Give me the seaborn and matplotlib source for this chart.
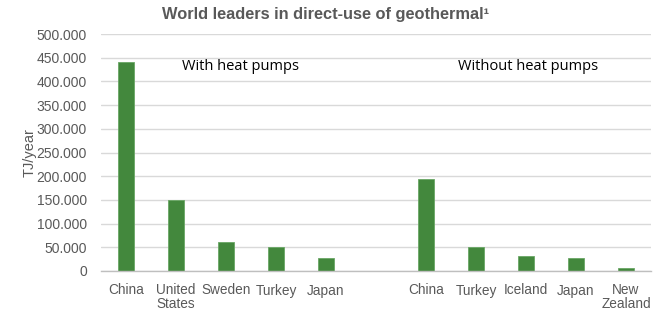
import matplotlib
matplotlib.use("Agg")
import matplotlib.pyplot as plt
import matplotlib.ticker as mticker
import seaborn as sns
import pandas as pd

# Data
with_hp_countries = ["China", "United\nStates", "Sweden", "Turkey", "Japan"]
with_hp_values = [441000, 150000, 61000, 51500, 28000]
without_hp_countries = ["China", "Turkey", "Iceland", "Japan", "New\nZealand"]
without_hp_values = [194000, 51500, 31000, 27000, 6500]
group_labels = ["With heat pumps", "Without heat pumps"]
title = "World leaders in direct-use of geothermal\u00b9"
y_label = "TJ/year"

keys = [f"hp{i}" for i in range(len(with_hp_countries))] + ["gap"] + \
       [f"nohp{i}" for i in range(len(without_hp_countries))]
labels = with_hp_countries + [""] + without_hp_countries
values = with_hp_values + [0] + without_hp_values
df = pd.DataFrame({"key": keys, "value": values})

sns.set_theme(style="white")
plt.rcParams["font.family"] = ["Liberation Sans", "DejaVu Sans"]

fig = plt.figure(figsize=(6.58, 3.10), dpi=100)
ax = fig.add_axes([101 / 658, 1 - 271 / 310, (651 - 101) / 658, (271 - 34) / 310])

sns.barplot(data=df, x="key", y="value", order=keys, color="#43883d",
            width=0.32, ax=ax, saturation=1, edgecolor="#6aa765", linewidth=0.6)

ax.set_xlim(-0.5, len(keys) - 0.5)
ax.set_ylim(0, 500000)
ax.set_yticks(range(0, 500001, 50000))
ax.yaxis.set_major_formatter(mticker.FuncFormatter(
    lambda v, p: "0" if v == 0 else f"{int(v):,}".replace(",", ".")))
ax.grid(axis="y", color="#d9d9d9", linewidth=1)
ax.set_axisbelow(True)
for s in ["top", "right", "left"]:
    ax.spines[s].set_visible(False)
ax.spines["bottom"].set_color("#bfbfbf")
ax.spines["bottom"].set_linewidth(1)

ax.set_xticks(range(len(keys)))
ax.set_xticklabels(labels, fontsize=9.8, color="#595959", linespacing=1.0, va="top")
ax.tick_params(axis="x", length=0, pad=9)
ax.tick_params(axis="y", length=0, pad=10, labelsize=10, labelcolor="#595959")
ax.set_xlabel("")
ax.set_ylabel(y_label, fontsize=10.5, color="#595959", labelpad=0)

ax.text(2.28, 432000, group_labels[0], fontsize=10.5, color="#000000",
        ha="center", va="center", family=["Open Sans", "DejaVu Sans"])
ax.text(8.04, 432000, group_labels[1], fontsize=10.5, color="#000000",
        ha="center", va="center", family=["Open Sans", "DejaVu Sans"])

fig.text(326 / 658, 1 - 14 / 310, title, fontsize=11.8, fontweight="bold",
         color="#595959", ha="center", va="center")

fig.savefig("out.png", dpi=100)
